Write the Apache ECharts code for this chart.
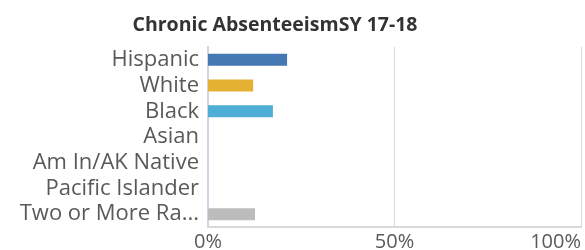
<!DOCTYPE html>
<html>
<head>
  <meta charset="UTF-8">
  <script src="https://cdn.jsdelivr.net/npm/echarts@6/dist/echarts.min.js"></script>
  <style>
    html, body { margin: 0; padding: 0; background: #fff; }
    #chart { width: 585px; height: 250px; }
  </style>
</head>
<body>
  <div id="chart"></div>
  <script>
    var groups = ['Hispanic', 'White', 'Black', 'Asian', 'Am In/AK Native', 'Pacific Islander', 'Two or More Ra...'];
    var rates = [21.2, 12.1, 17.4, 0, 0, 0, 12.6];
    var barColors = ['#4479b4', '#e4b133', '#4eaed5', '#4eaed5', '#4eaed5', '#4eaed5', '#bcbcbc'];
    var pctTicks = [0, 50, 100];

    var chart = echarts.init(document.getElementById('chart'));
    chart.setOption({
      animation: false,
      title: {
        text: 'Chronic AbsenteeismSY 17-18',
        left: 270,
        textAlign: 'center',
        top: 10,
        textStyle: { fontFamily: 'Open Sans', fontWeight: 'bold', fontSize: 19.5, color: '#333' }
      },
      grid: { left: 208, right: 4, top: 47, bottom: 23, containLabel: false, outerBoundsMode: 'none' },
      xAxis: {
        type: 'value',
        min: 0,
        max: 100,
        interval: 50,
        axisLine: { show: true, lineStyle: { color: '#d9d9d9', width: 2 } },
        axisTick: { show: false },
        splitLine: { lineStyle: { color: '#d9d9d9', width: 1 } },
        axisLabel: {
          fontFamily: 'Open Sans', fontSize: 20, color: '#595959', margin: 5,
          alignMaxLabel: 'right',
          formatter: function (v) { return pctTicks.indexOf(v) >= 0 ? v + '%' : ''; }
        }
      },
      yAxis: {
        type: 'category',
        data: groups,
        inverse: true,
        axisLine: { show: true, lineStyle: { color: '#cdd5e6', width: 2 } },
        axisTick: { show: false },
        axisLabel: { interval: 0, fontFamily: 'Open Sans', fontSize: 22, color: '#595959', margin: 9 }
      },
      series: [{
        type: 'bar',
        barWidth: 12,
        data: rates.map(function (v, i) {
          return { value: v, itemStyle: { color: barColors[i] } };
        })
      }]
    });
  </script>
</body>
</html>
